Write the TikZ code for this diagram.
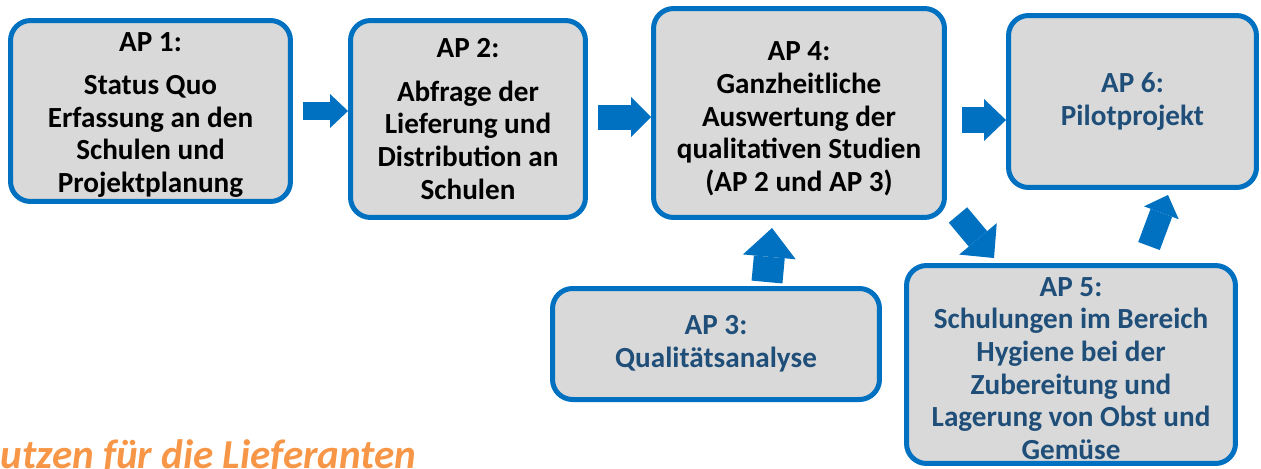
\documentclass[tikz,border=0pt]{standalone}
\usepackage{fontspec}
\setmainfont{Carlito}
\usetikzlibrary{arrows.meta,calc}
\definecolor{apblue}{HTML}{0070C0}
\definecolor{apgray}{HTML}{D9D9D9}
\definecolor{apnavy}{HTML}{1F4E79}
\definecolor{aporange}{HTML}{F79646}
\begin{document}
\begin{tikzpicture}[x=0.02cm,y=-0.02cm,
    apbox/.style={rounded corners=0.4cm,fill=apgray,draw=apblue,line width=0.1cm,align=center,inner sep=0pt,font=\bfseries\fontsize{16.6}{18.6}\selectfont},
    flow/.style n args={3}{apblue,line width=#1,-{Triangle[width=#2,length=#3,line width=0pt]}}]
  \useasboundingbox (0,0) rectangle (1261,468);
  \node[apbox,minimum width=5.6cm,minimum height=3.62cm] (ap1) at (150.5,111) {\rule{0pt}{15.2pt}AP 1:\\[6pt]Status Quo\\Erfassung an den\\Schulen und\\Projektplanung};
  \node[apbox,minimum width=4.7cm,minimum height=3.94cm] (ap2) at (468,119) {AP 2:\\[6pt]Abfrage der\\Lieferung und\\Distribution an\\Schulen};
  \node[apbox,minimum width=5.82cm,minimum height=4.18cm] (ap4) at (799,113) {\rule{0pt}{17.5pt}AP 4:\\Ganzheitliche\\Auswertung der\\qualitativen Studien\\(AP 2 und AP 3)};
  \node[apbox,text=apnavy,minimum width=4.96cm,minimum height=3.44cm] (ap6) at (1132.5,101.5) {AP 6:\\Pilotprojekt};
  \node[apbox,text=apnavy,minimum width=6.54cm,minimum height=2.22cm] (ap3) at (716,344) {AP 3:\\Qualitätsanalyse};
  \node[apbox,text=apnavy,minimum width=6.58cm,minimum height=3.96cm] (ap5) at (1071,364.5) {\rule{0pt}{15.2pt}AP 5:\\Schulungen im Bereich\\Hygiene bei der\\Zubereitung und\\Lagerung von Obst und\\Gemüse};
  \node[anchor=base east,inner sep=0pt,text=aporange,font=\bfseries\itshape\fontsize{23.4}{28}\selectfont] (nutzen) at (417,468) {Nutzen für die Lieferanten};
  \draw[flow={0.36cm}{0.68cm}{0.36cm},shorten <=0.2cm] (ap1.east) -- (ap1.east -| ap2.west);
  \draw[flow={0.5cm}{0.8cm}{0.4cm},shorten <=0.2cm] ([yshift=0.04cm]ap2.east) -- ([yshift=0.04cm]ap2.east -| ap4.west);
  \draw[flow={0.52cm}{0.84cm}{0.44cm},shorten <=0.3cm] ([yshift=-0.14cm]ap4.east) -- ([yshift=-0.14cm]ap4.east -| ap6.west);
  \draw[flow={0.62cm}{1.06cm}{0.58cm}] ($(ap3.north)+(51,-4)$) -- ($(ap4.south)+(-27,8)$);
  \draw[flow={0.48cm}{0.98cm}{0.5cm}] ($(ap4.south east)+(11,-5)$) -- ($(ap5.north)+(-77,-5)$);
  \draw[flow={0.46cm}{0.74cm}{0.38cm}] ($(ap5.north)+(78,-17)$) -- ($(ap6.south)+(35.5,5)$);
\end{tikzpicture}
\end{document}
